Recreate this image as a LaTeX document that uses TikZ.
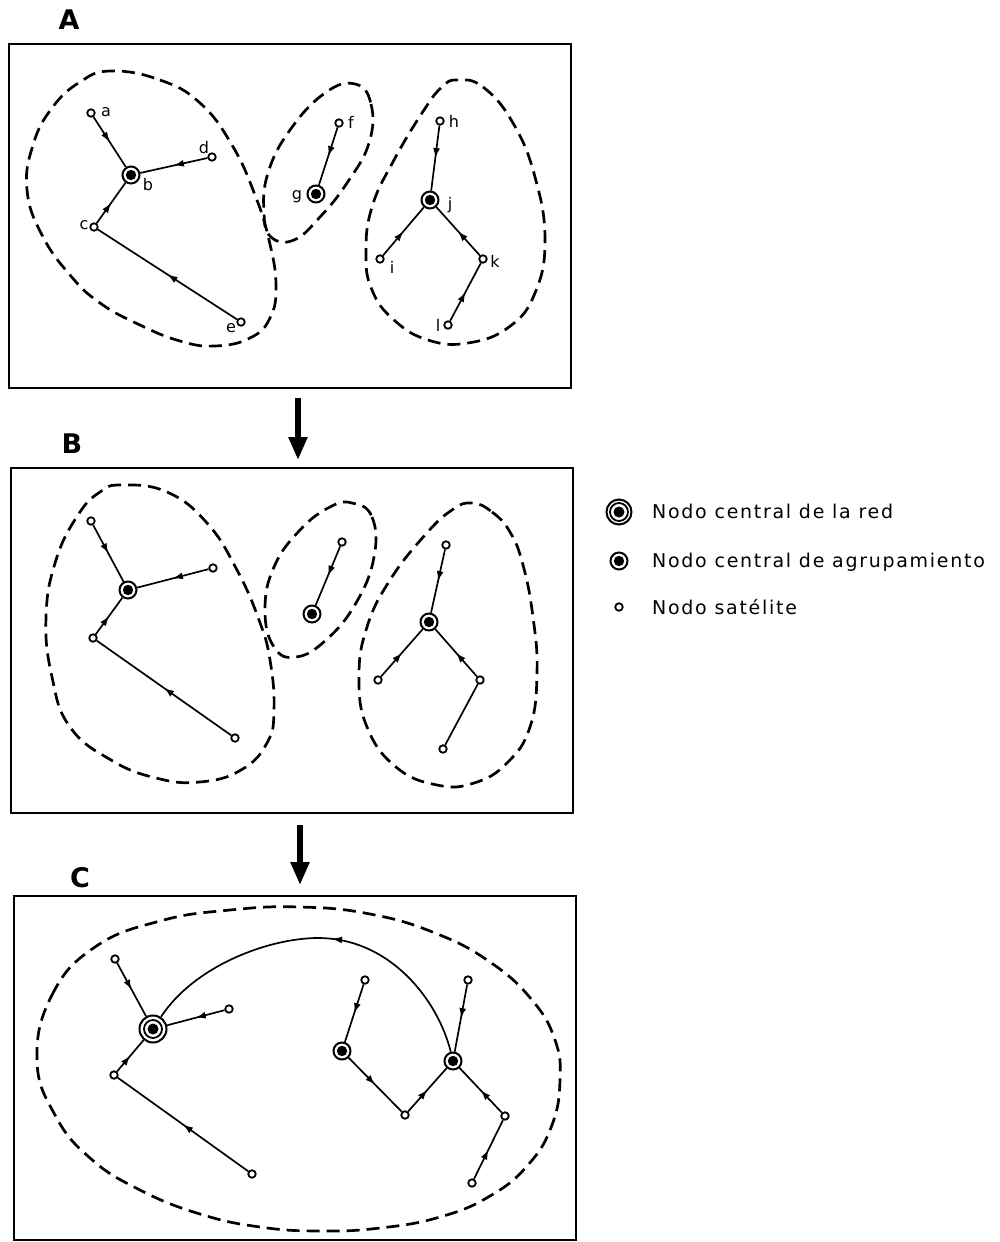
\documentclass[tikz,border=0pt]{standalone}
\usepackage{fontspec}
\setmainfont{DejaVu Sans}
\newfontfamily\legfont[LetterSpace=9]{DejaVu Sans}
\usetikzlibrary{arrows.meta,decorations.markings}
\begin{document}
\begin{tikzpicture}[x=1pt,y=-1pt,
  frame/.style={line width=2.2pt},
  blob/.style={line width=2.7pt, dash pattern=on 13pt off 7pt},
  sat/.style={circle,draw,fill=white,line width=1.8pt,minimum size=7.5pt,inner sep=0pt},
  clus/.style={circle,draw,fill=white,line width=2pt,minimum size=17pt,inner sep=0pt,
     path picture={\fill[black] (path picture bounding box.center) circle (5.2pt);}},
  net/.style={circle,draw,fill=white,line width=2pt,minimum size=27pt,inner sep=0pt,
     path picture={\draw[black,line width=1.8pt] (path picture bounding box.center) circle (9pt);
                   \fill[black] (path picture bounding box.center) circle (5.5pt);}},
  edge/.style={line width=1.7pt},
  midarr/.style={postaction={decorate},decoration={markings,mark=at position #1 with {\arrow{Latex[length=10pt,width=7pt]}}}},
  midarr/.default=0.5,
  lbl/.style={font=\fontsize{16}{16}\selectfont, inner sep=0pt},
  plab/.style={font=\bfseries\fontsize{27}{27}\selectfont, inner sep=0pt},
  leg/.style={font=\legfont\fontsize{19}{21}\selectfont, anchor=base west, inner sep=0pt},
  bigarrow/.style={line width=5.5pt, -{Triangle[length=23pt,width=18pt]}}
]
\useasboundingbox (0,0) rectangle (999,1242);

% ---------- panel labels and frames
\node[plab] (labA) at (69,20) {A};
\node[plab] (labB) at (72,444) {B};
\node[plab] (labC) at (80,878) {C};
\draw[frame] (9,44) rectangle (571,388);
\draw[frame] (11,468) rectangle (573,813);
\draw[frame] (14,896) rectangle (576,1240);

% ---------- arrows between panels
\coordinate (ar1s) at (298,398); \coordinate (ar1e) at (298,460);
\coordinate (ar2s) at (300,825); \coordinate (ar2e) at (300,885);
\draw[bigarrow] (ar1s) -- (ar1e);
\draw[bigarrow] (ar2s) -- (ar2e);

% ================= PANEL A
\draw[blob] plot[smooth cycle, tension=0.75] coordinates {(111,71) (160,80) (200,103) (232,145) (255,195) (269,240) (276,285) (270,318) (250,338) (215,346) (180,341) (140,325) (100,303) (70,275) (42,235) (27,190) (33,145) (52,108) (80,82)};
\draw[blob] plot[smooth cycle, tension=0.75] coordinates {(355,84) (371,104) (369,143) (347,183) (320,217) (294,240) (271,237) (264,213) (268,173) (290,130) (325,93)};
\draw[blob] plot[smooth cycle, tension=0.75] coordinates {(457,80) (483,87) (513,123) (535,177) (545,240) (535,293) (509,327) (468,343) (428,340) (394,320) (372,290) (366,253) (372,207) (394,160) (424,110) (442,87)};

\node[sat] (Aa) at (91,113) {};
\node[clus] (Ab) at (131,175) {};
\node[sat] (Ad) at (212,157) {};
\node[sat] (Ac) at (94,227) {};
\node[sat] (Ae) at (241,322) {};
\node[sat] (Af) at (339,123) {};
\node[clus] (Ag) at (316,194) {};
\node[sat] (Ah) at (440,121) {};
\node[clus] (Aj) at (430,200) {};
\node[sat] (Ai) at (380,259) {};
\node[sat] (Ak) at (483,259) {};
\node[sat] (Al) at (448,325) {};

\draw[edge,midarr] (Aa) -- (Ab);
\draw[edge,midarr] (Ad) -- (Ab);
\draw[edge,midarr] (Ac) -- (Ab);
\draw[edge,midarr] (Ae) -- (Ac);
\draw[edge,midarr] (Af) -- (Ag);
\draw[edge,midarr] (Ah) -- (Aj);
\draw[edge,midarr] (Ai) -- (Aj);
\draw[edge,midarr] (Ak) -- (Aj);
\draw[edge,midarr] (Al) -- (Ak);

\node[lbl] (la) at (106,112) {a};
\node[lbl] (lb) at (148,185) {b};
\node[lbl] (lc) at (84,225) {c};
\node[lbl] (ld) at (204,148) {d};
\node[lbl] (le) at (231,328) {e};
\node[lbl] (lf) at (351,122) {f};
\node[lbl] (lg) at (297,197) {g};
\node[lbl] (lh) at (454,121) {h};
\node[lbl] (lj) at (450,205) {j};
\node[lbl] (li) at (392,267) {i};
\node[lbl] (lk) at (495,261) {k};
\node[lbl] (ll) at (438,325) {l};

% ================= PANEL B
\draw[blob] plot[smooth cycle, tension=0.75] coordinates {(122,485) (167,492) (207,523) (237,570) (259,620) (270,660) (274,710) (267,743) (241,770) (200,782) (156,778) (111,760) (70,727) (52,677) (46,617) (56,560) (78,515) (100,492)};
\draw[blob] plot[smooth cycle, tension=0.75] coordinates {(352,503) (372,517) (374,557) (356,603) (326,640) (296,657) (274,647) (265,610) (274,567) (300,530) (330,507)};
\draw[blob] plot[smooth cycle, tension=0.75] coordinates {(472,503) (492,512) (510,532) (523,565) (533,617) (537,673) (530,727) (507,763) (474,783) (437,785) (396,767) (367,727) (359,677) (367,627) (390,580) (425,535) (452,510)};

\node[sat] (Ba) at (91,521) {};
\node[clus] (Bb) at (128,590) {};
\node[sat] (Bd) at (213,568) {};
\node[sat] (Bc) at (93,638) {};
\node[sat] (Be) at (235,738) {};
\node[sat] (Bf) at (342,542) {};
\node[clus] (Bg) at (312,614) {};
\node[sat] (Bh) at (446,545) {};
\node[clus] (Bj) at (429,622) {};
\node[sat] (Bi) at (378,680) {};
\node[sat] (Bk) at (480,680) {};
\node[sat] (Bl) at (443,749) {};

\draw[edge,midarr] (Ba) -- (Bb);
\draw[edge,midarr] (Bd) -- (Bb);
\draw[edge,midarr] (Bc) -- (Bb);
\draw[edge,midarr] (Be) -- (Bc);
\draw[edge,midarr] (Bf) -- (Bg);
\draw[edge,midarr] (Bh) -- (Bj);
\draw[edge,midarr] (Bi) -- (Bj);
\draw[edge,midarr] (Bk) -- (Bj);
\draw[edge] (Bl) -- (Bk);

% ================= PANEL C
\draw[blob] plot[smooth cycle, tension=0.75] coordinates {(37,1060) (52,995) (95,947) (160,921) (230,910) (300,907) (370,914) (435,933) (490,962) (532,1000) (555,1040) (560,1080) (552,1125) (528,1165) (490,1196) (440,1217) (380,1228) (320,1231) (260,1227) (200,1214) (140,1190) (90,1158) (55,1115)};

\node[sat] (Ca) at (115,959) {};
\node[net] (Cb) at (153,1029) {};
\node[sat] (Cd) at (229,1009) {};
\node[sat] (Cc) at (114,1075) {};
\node[sat] (Ce) at (252,1174) {};
\node[sat] (Cf) at (365,980) {};
\node[clus] (Cg) at (342,1051) {};
\node[sat] (Cm) at (405,1115) {};
\node[sat] (Ch) at (468,980) {};
\node[clus] (Cj) at (453,1061) {};
\node[sat] (Ck) at (505,1116) {};
\node[sat] (Cl) at (472,1183) {};
\coordinate (Ctop) at (318,938);

\draw[edge,midarr] (Ca) -- (Cb);
\draw[edge,midarr] (Cd) -- (Cb);
\draw[edge,midarr] (Cc) -- (Cb);
\draw[edge,midarr] (Ce) -- (Cc);
\draw[edge,midarr] (Cf) -- (Cg);
\draw[edge,midarr] (Cg) -- (Cm);
\draw[edge,midarr] (Cm) -- (Cj);
\draw[edge,midarr] (Ch) -- (Cj);
\draw[edge,midarr] (Ck) -- (Cj);
\draw[edge,midarr] (Cl) -- (Ck);
\draw[edge,midarr=0.47] (Cj) .. controls (438,1000) and (390,938) .. (Ctop) .. controls (270,938) and (195,965) .. (Cb);

% ================= LEGEND
\node[net,minimum size=25pt] (Lnet) at (619,512) {};
\node[clus] (Lclus) at (619,561) {};
\node[sat] (Lsat) at (619,607) {};
\node[leg] (Lt1) at (652,518) {Nodo central de la red};
\node[leg] (Lt2) at (652,567) {Nodo central de agrupamiento};
\node[leg] (Lt3) at (652,614) {Nodo satélite};
\end{tikzpicture}
\end{document}
